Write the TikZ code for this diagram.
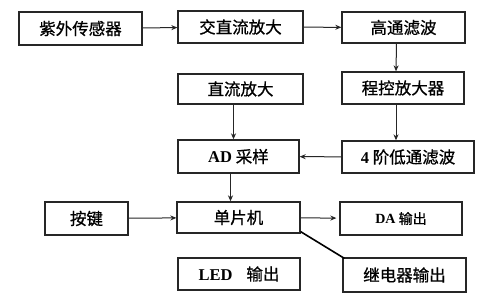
\documentclass[tikz,border=0pt]{standalone}
\usepackage{fontspec}
\setmainfont{Liberation Serif}
\newfontfamily\cjk[FakeBold=0.8]{Noto Sans CJK SC}
\usetikzlibrary{arrows.meta}
\begin{document}
\begin{tikzpicture}[x=1pt,y=-1pt,
  blk/.style={draw=black!85,line width=1.3pt,inner sep=0pt,font=\fontsize{16.5}{18}\selectfont\cjk},
  arr/.style={draw=black!85,line width=1pt,-{Stealth[length=6pt,width=5pt]}}]
\useasboundingbox[fill=white] (0,0) rectangle (504,304);
\node[blk,minimum width=123pt,minimum height=33pt] (A) at (80.5,28.5) {紫外传感器};
\node[blk,minimum width=125pt,minimum height=32pt] (B) at (240.5,27) {交直流放大};
\node[blk,minimum width=123pt,minimum height=31pt] (C) at (403.5,27.5) {高通滤波};
\node[blk,minimum width=125pt,minimum height=30pt] (D) at (240.5,89) {直流放大};
\node[blk,minimum width=122pt,minimum height=32pt] (E) at (403,88) {程控放大器};
\node[blk,minimum width=121pt,minimum height=33pt] (F) at (238.5,156.5) {{\rmfamily\bfseries AD} 采样};
\node[blk,minimum width=132pt,minimum height=32pt] (G) at (408,157) {{\rmfamily\bfseries 4} 阶低通滤波};
\node[blk,minimum width=83pt,minimum height=33pt] (H) at (86.5,218.5) {按键};
\node[blk,minimum width=123pt,minimum height=31pt] (I) at (238.5,217.5) {单片机};
\node[blk,minimum width=122pt,minimum height=33pt,font=\fontsize{14}{16}\selectfont\cjk] (J) at (401,218.5) {{\rmfamily\bfseries DA} 输出};
\node[blk,minimum width=122pt,minimum height=32pt] (K) at (239,274) {{\rmfamily\bfseries LED}\hspace{14pt}输出};
\node[blk,minimum width=123pt,minimum height=34pt] (L) at (404.5,275) {继电器输出};
\draw[arr] (A) -- (B);
\draw[arr] (B) -- (C);
\draw[arr] ([xshift=-7pt]C.south) -- ([xshift=-7pt]E.north);
\draw[arr] ([xshift=-7pt]E.south) -- ([xshift=-12pt]G.north);
\draw[arr] ([xshift=-7pt]D.south) -- ([xshift=-5pt]F.north);
\draw[arr] (G) -- (F);
\draw[arr] ([xshift=-8pt]F.south) -- ([xshift=-8pt]I.north);
\draw[arr] (H) -- (I);
\draw[arr,shorten >=3pt] (I) -- (J);
\draw[black,line width=1.6pt] ([yshift=2pt]I.south east) -- ([xshift=2pt,yshift=-1pt]L.north west);
\end{tikzpicture}
\end{document}
